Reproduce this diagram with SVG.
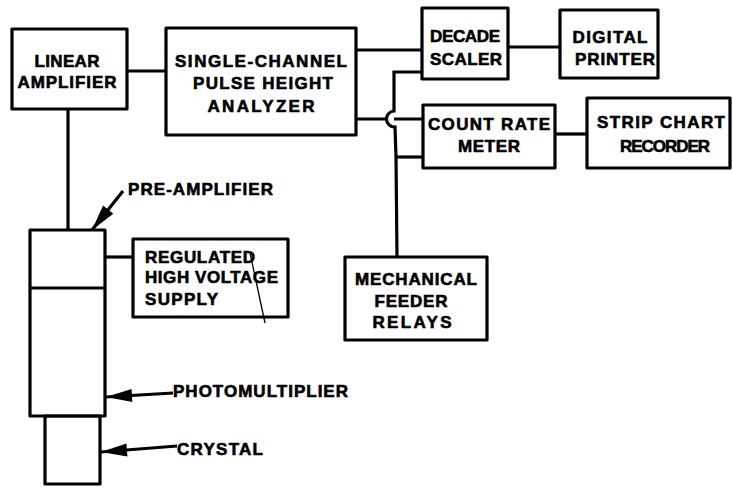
<svg xmlns="http://www.w3.org/2000/svg" width="733" height="490" viewBox="0 0 733 490">
<style>
.box{fill:none;stroke:#000;stroke-width:3.2;stroke-linejoin:round}
.ln{fill:none;stroke:#000;stroke-width:3.2;stroke-linecap:butt}
.thin{fill:none;stroke:#000;stroke-width:1.3}
text{font-family:"Liberation Sans",Arial,sans-serif;font-weight:bold;font-size:17px;fill:#000;stroke:#000;stroke-width:0.6}
.c{text-anchor:middle}
</style>
<defs>
<marker id="ah" markerUnits="userSpaceOnUse" markerWidth="30" markerHeight="16" refX="26" refY="8" orient="auto" overflow="visible">
<path d="M0,1.5 L26,8 L0,14.5 Z" fill="#000"/>
</marker>
</defs>
<rect width="733" height="490" fill="#fff"/>

<g id="connectors">
<line class="ln" x1="127" y1="71" x2="166" y2="71"/>
<line class="ln" x1="68" y1="109" x2="68" y2="230"/>
<line class="ln" x1="356" y1="50" x2="422" y2="50"/>
<line class="ln" x1="508" y1="47" x2="560" y2="47"/>
<path class="ln" d="M422,72 L394,72 L394,111 A8,8 0 0 0 395,127 L396,157 L397,257"/>
<path class="ln" d="M356,119 L387,119 M394,119 L423,119"/>
<line class="ln" x1="396" y1="157" x2="423" y2="157"/>
<line class="ln" x1="555" y1="134" x2="587" y2="134"/>
<line class="ln" x1="105" y1="257" x2="133" y2="257"/>
<line class="ln" x1="123" y1="191" x2="92" y2="230" marker-end="url(#ah)"/>
<line class="ln" x1="173" y1="393" x2="106" y2="397" marker-end="url(#ah)"/>
<line class="ln" x1="177" y1="446" x2="101" y2="452" marker-end="url(#ah)"/>
<line class="thin" x1="250" y1="253" x2="265" y2="323"/>
</g>

<g id="linear-amplifier">
<rect class="box" x="12" y="29" width="115" height="80"/>
<text x="67" y="67" class="c" textLength="65">LINEAR</text>
<text x="67" y="88" class="c" textLength="99">AMPLIFIER</text>
</g>

<g id="pulse-height-analyzer">
<rect class="box" x="166" y="28" width="190" height="107"/>
<text x="261" y="67" class="c" textLength="172">SINGLE-CHANNEL</text>
<text x="263" y="89" class="c" textLength="140">PULSE HEIGHT</text>
<text x="261" y="112" class="c" textLength="107">ANALYZER</text>
</g>

<g id="decade-scaler">
<rect class="box" x="422" y="8" width="86" height="71"/>
<text x="465" y="42" class="c" textLength="70">DECADE</text>
<text x="466" y="65" class="c" textLength="72">SCALER</text>
</g>

<g id="digital-printer">
<rect class="box" x="560" y="10" width="98" height="68"/>
<text x="610" y="43" class="c" textLength="75">DIGITAL</text>
<text x="615" y="65" class="c" textLength="80">PRINTER</text>
</g>

<g id="count-rate-meter">
<rect class="box" x="423" y="105" width="132" height="63"/>
<text x="489" y="130" class="c" textLength="122">COUNT RATE</text>
<text x="489" y="152" class="c" textLength="62">METER</text>
</g>

<g id="strip-chart-recorder">
<rect class="box" x="587" y="98" width="143" height="70"/>
<text x="661" y="128" class="c" textLength="128">STRIP CHART</text>
<text x="665" y="152" class="c" textLength="90">RECORDER</text>
</g>

<g id="mechanical-feeder-relays">
<rect class="box" x="345" y="257" width="142" height="83"/>
<text x="416" y="285" class="c" textLength="122">MECHANICAL</text>
<text x="411" y="307" class="c" textLength="73">FEEDER</text>
<text x="412" y="328" class="c" textLength="79">RELAYS</text>
</g>

<g id="regulated-high-voltage-supply">
<rect class="box" x="133" y="239" width="155" height="78"/>
<text x="145" y="263" textLength="110">REGULATED</text>
<text x="145" y="283" textLength="133">HIGH VOLTAGE</text>
<text x="145" y="305" textLength="73">SUPPLY</text>
</g>

<g id="detector">
<rect class="box" x="30" y="230" width="75" height="186"/>
<line class="ln" x1="30" y1="288" x2="105" y2="288"/>
<rect class="box" x="45" y="416" width="55" height="68"/>
</g>

<g id="labels">
<text x="128" y="195" textLength="145">PRE-AMPLIFIER</text>
<text x="173" y="397" textLength="175">PHOTOMULTIPLIER</text>
<text x="177" y="455" textLength="86">CRYSTAL</text>
</g>
</svg>
